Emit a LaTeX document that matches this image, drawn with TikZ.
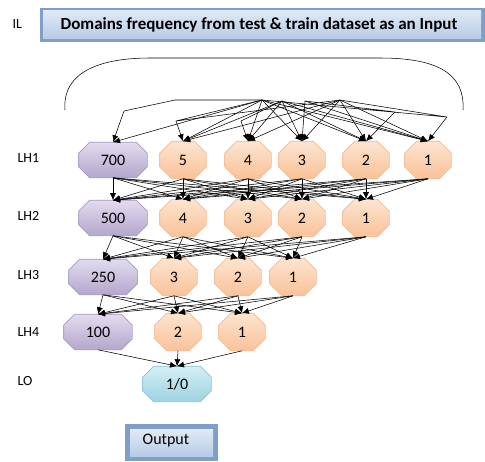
\documentclass[tikz,border=0pt]{standalone}
\usepackage{fontspec}
\setmainfont{Carlito}
\usetikzlibrary{arrows.meta}
\makeatletter
\newdimen\octc \newdimen\oxa \newdimen\oxb \newdimen\oya \newdimen\oyb
\pgfdeclareshape{octo}{
  \inheritsavedanchors[from=rectangle]
  \inheritanchorborder[from=rectangle]
  \inheritanchor[from=rectangle]{center}
  \inheritanchor[from=rectangle]{north}
  \inheritanchor[from=rectangle]{south}
  \inheritanchor[from=rectangle]{east}
  \inheritanchor[from=rectangle]{west}
  \inheritanchor[from=rectangle]{north east}
  \inheritanchor[from=rectangle]{north west}
  \inheritanchor[from=rectangle]{south east}
  \inheritanchor[from=rectangle]{south west}
  \inheritanchor[from=rectangle]{base}
  \inheritanchor[from=rectangle]{mid}
  \backgroundpath{
    \southwest \oxa=\pgf@x \oya=\pgf@y
    \northeast \oxb=\pgf@x \oyb=\pgf@y
    \pgfpathmoveto{\pgfpoint{\oxa+\octc}{\oya}}
    \pgfpathlineto{\pgfpoint{\oxb-\octc}{\oya}}
    \pgfpathlineto{\pgfpoint{\oxb}{\oya+\octc}}
    \pgfpathlineto{\pgfpoint{\oxb}{\oyb-\octc}}
    \pgfpathlineto{\pgfpoint{\oxb-\octc}{\oyb}}
    \pgfpathlineto{\pgfpoint{\oxa+\octc}{\oyb}}
    \pgfpathlineto{\pgfpoint{\oxa}{\oyb-\octc}}
    \pgfpathlineto{\pgfpoint{\oxa}{\oya+\octc}}
    \pgfpathclose
  }
}
\makeatother
\definecolor{purL}{RGB}{226,220,238}
\definecolor{purD}{RGB}{180,166,205}
\definecolor{purE}{RGB}{166,152,195}
\definecolor{orL}{RGB}{253,228,208}
\definecolor{orD}{RGB}{249,194,152}
\definecolor{orE}{RGB}{243,186,146}
\definecolor{blL}{RGB}{212,239,245}
\definecolor{blD}{RGB}{156,211,224}
\definecolor{blE}{RGB}{136,196,212}
\definecolor{tiL}{RGB}{224,234,246}
\definecolor{tiD}{RGB}{184,204,230}
\definecolor{tiE}{RGB}{128,158,200}
\tikzset{
  chamf/.code={\setlength\octc{#1}},
  oct/.style={shape=octo, inner sep=0pt, font=\fontsize{16}{18}\selectfont, draw=#1E, line width=0.6pt},
  purp/.style={oct=pur, chamf=11pt, minimum width=68pt, minimum height=35pt, top color=purL, bottom color=purD},
  oran/.style={oct=or, chamf=12pt, minimum width=46pt, minimum height=37pt, top color=orL, bottom color=orD},
  blue/.style={oct=bl, chamf=11pt, minimum width=68pt, minimum height=35pt, top color=blL, bottom color=blD},
  lab/.style={font=\fontsize{14}{16}\selectfont, anchor=west},
  con/.style={line width=0.55pt, -{Latex[length=7pt,width=6pt]}},
  lin/.style={line width=0.55pt}
}
\begin{document}
\begin{tikzpicture}[x=1pt,y=-1pt]
\useasboundingbox (0,0) rectangle (485,461);
% title box
\fill[tiE] (40,8) rectangle (485,42);
\fill[top color=tiL, bottom color=tiD] (43,10) rectangle (481,38);
\node[font=\bfseries\fontsize{17}{19}\selectfont] (title) at (259,25) {Domains frequency from test \& train dataset as an Input};
\node[lab] (il) at (9,24) {IL};
% arc
\draw[lin] (65,110) .. controls (62,72) and (100,58) .. (150,58) -- (380,58) .. controls (440,58) and (465,75) .. (463,110);
% labels
\node[lab] (l1) at (14,158) {LH1};
\node[lab] (l2) at (14,216) {LH2};
\node[lab] (l3) at (14,275) {LH3};
\node[lab] (l4) at (14,332) {LH4};
\node[lab] (l5) at (14,381) {LO};
% nodes
\node[purp] (a0) at (113,160) {700};
\node[oran] (a5) at (183,160) {5};
\node[oran] (a4) at (248,160) {4};
\node[oran] (a3) at (302,160) {3};
\node[oran] (a2) at (366,160) {2};
\node[oran] (a1) at (428,160) {1};
\node[purp] (b0) at (113,218) {500};
\node[oran] (b4) at (183,218) {4};
\node[oran] (b3) at (248,218) {3};
\node[oran] (b2) at (302,218) {2};
\node[oran] (b1) at (366,218) {1};
\node[purp] (c0) at (103,277) {250};
\node[oran] (c3) at (174,277) {3};
\node[oran] (c2) at (238,277) {2};
\node[oran] (c1) at (293,277) {1};
\node[purp] (d0) at (98,332) {100};
\node[oran] (d2) at (178,332) {2};
\node[oran] (d1) at (242,332) {1};
\node[blue] (o) at (177,384) {1/0};
% output box
\fill[tiE] (125,424) rectangle (218,461);
\fill[top color=tiL, bottom color=tiD] (130,429) rectangle (213,456);
\node[font=\fontsize{16}{18}\selectfont] (out) at (166,441) {Output};
% top tangle
\coordinate (t1) at (175,100);
\coordinate (t2) at (262,100);
\coordinate (t3) at (282,101);
\coordinate (t4) at (340,100);
\coordinate (t5) at (305,101);
\coordinate (l) at (124,111);
\coordinate (m) at (176,121);
\coordinate (n) at (241,121);
\coordinate (r) at (447,117);
\coordinate (q) at (395,112);
\draw[lin] (t1) -- (t2) (t1) -- (l);
\draw[con] (l) -- (a0.north);
\draw[con] (t2) -- (a0.north);
\draw[lin] (t2) -- (m) (t4) -- (m) (t3) -- (n) (t2) -- (r) (t4) -- (r) (t5) -- (q);
\draw[con] (m) -- (a5.north);
\draw[con] (n) -- (a4.north);
\draw[con] (r) -- (a1.north);
\draw[con] (q) -- (a2.north);
\foreach \s in {t2,t3,t4}{
  \draw[con] (\s) -- (a5.north);
  \draw[con] (\s) -- (a4.north);
  \draw[con] (\s) -- (a3.north);
  \draw[con] (\s) -- (a2.north);
  \draw[con] (\s) -- (a1.north);
}
\draw[con] (t5) -- (a3.north);
\draw[con] (t5) -- (a1.north);
% LH1 -> LH2
\foreach \s in {a0,a5,a4,a3,a2,a1}{
  \foreach \t in {b0,b4,b3,b2,b1}{
    \draw[con] (\s.south) -- (\t.north);
  }
}
% LH2 -> LH3
\foreach \s in {b0,b4,b3,b2,b1}{
  \foreach \t in {c0,c3,c2,c1}{
    \draw[con] (\s.south) -- (\t.north);
  }
}
% LH3 -> LH4
\foreach \s in {c0,c3,c2,c1}{
  \foreach \t in {d0,d2,d1}{
    \draw[con] (\s.south) -- (\t.north);
  }
}
% LH4 -> LO
\foreach \s in {d0,d2,d1}{
  \draw[con] (\s.south) -- (o.north);
}
\end{tikzpicture}
\end{document}
